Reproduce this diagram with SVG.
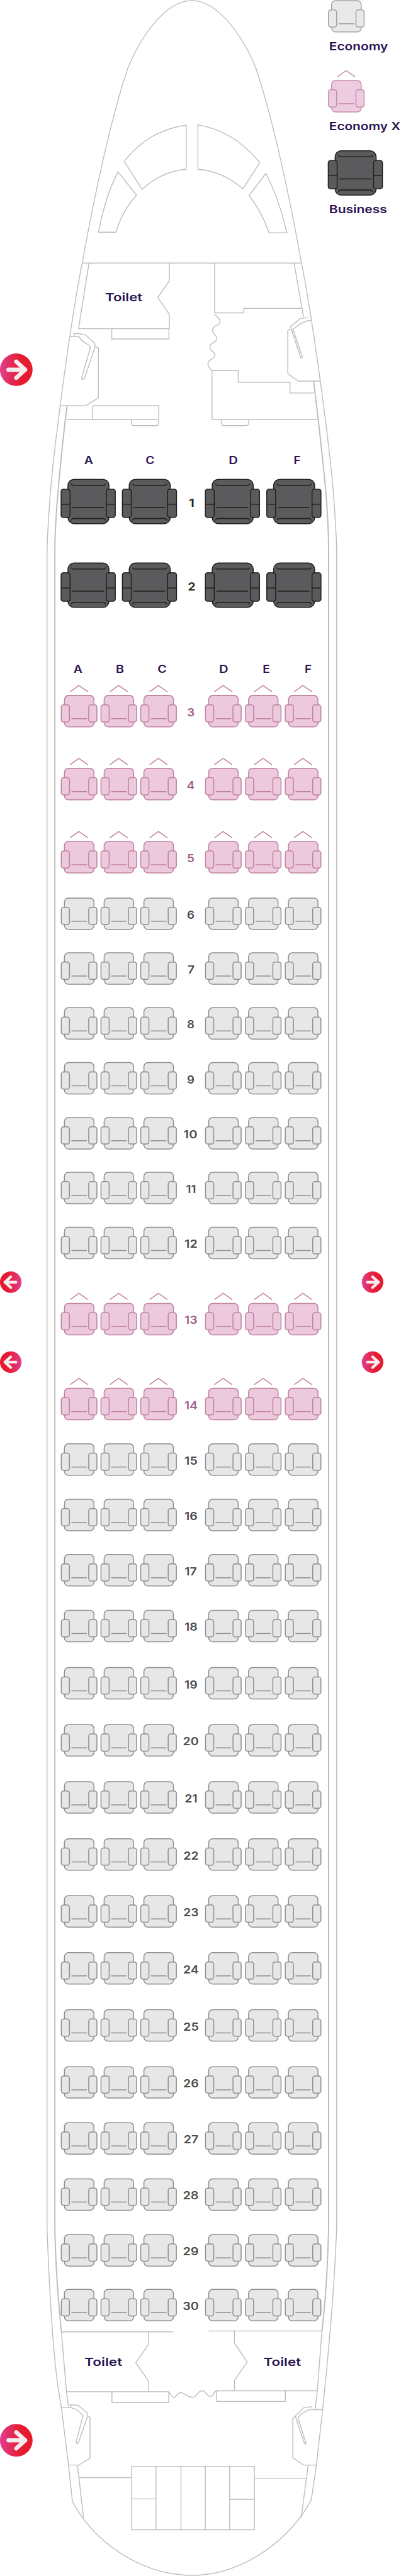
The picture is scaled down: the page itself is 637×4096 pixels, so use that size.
<svg xmlns="http://www.w3.org/2000/svg" width="637" height="4096" viewBox="0 0 637 4096">
<style>
.p{fill:none;stroke:#bdbdbd;stroke-width:1.6;stroke-linejoin:miter}
.w{fill:none;stroke:#bdbdbd;stroke-width:2.2}
.t{font-family:"Inter","Liberation Sans",sans-serif;font-weight:600;fill:#2a1452;font-size:20px}
.n{font-family:"Inter","Liberation Sans",sans-serif;font-weight:600;font-size:20px;text-anchor:middle}
.ne{fill:#4d4d4d}.nx{fill:#a0628a}.nb{fill:#262626}
.c{text-anchor:middle}
.eb{fill:#e7e7e7;stroke:#8f8f8f;stroke-width:1.7}
.xb{fill:#ecc9dc;stroke:#c0819f;stroke-width:1.7}
.bb{fill:#5b5b5d;stroke:#1f1f1f;stroke-width:1.7}
.eb2{fill:#e9e9e9;stroke:#a3a3a3;stroke-width:1.7}
.xb2{fill:#eeccdf;stroke:#c78cab;stroke-width:1.7}
.ln{fill:none}
</style>
<defs>
<linearGradient id="gr"><stop offset="0" stop-color="#e0408f"/><stop offset=".6" stop-color="#e61c33"/><stop offset="1" stop-color="#e61a2b"/></linearGradient>
<linearGradient id="gl"><stop offset="0" stop-color="#e61a2b"/><stop offset=".4" stop-color="#e61c33"/><stop offset="1" stop-color="#e0408f"/></linearGradient>
<g id="ar"><circle r="29.3" fill="url(#gr)"/><path d="M-14,0H16M0,-14.500L16,0L0,14.500" fill="none" stroke="#f6ecf0" stroke-width="7.500" stroke-linecap="round" stroke-linejoin="round"/></g>
<g id="al"><circle r="29.3" fill="url(#gl)"/><path d="M14,0H-16M0,-14.500L-16,0L0,14.500" fill="none" stroke="#f6ecf0" stroke-width="7.500" stroke-linecap="round" stroke-linejoin="round"/></g>
<g id="e" class="eb"><rect width="53" height="56.500" rx="7"/><rect x="-5.700" y="16.700" width="14.700" height="31" rx="4"/><rect x="43.600" y="16.700" width="14.700" height="31" rx="4"/><path d="M12.600,41.700H40.300" fill="none"/></g>
<g id="e2" class="eb2"><rect width="53" height="56.500" rx="7"/><rect x="-5.700" y="16.700" width="14.700" height="31" rx="4"/><rect x="43.600" y="16.700" width="14.700" height="31" rx="4"/><path d="M12.600,41.700H40.300" fill="none"/></g>
<g id="x" class="xb"><path d="M10.300,-6.700L26,-18L42,-6.700" fill="none"/><rect width="53" height="56.500" rx="7"/><rect x="-5.700" y="16.700" width="14.700" height="31" rx="4"/><rect x="43.600" y="16.700" width="14.700" height="31" rx="4"/><path d="M12.600,41.700H40.300" fill="none"/></g>
<g id="x2" class="xb2"><path d="M10.300,-6.700L26,-18L42,-6.700" fill="none"/><rect width="53" height="56.500" rx="7"/><rect x="-5.700" y="16.700" width="14.700" height="31" rx="4"/><rect x="43.600" y="16.700" width="14.700" height="31" rx="4"/><path d="M12.600,41.700H40.300" fill="none"/></g>
<g id="b" class="bb"><rect width="73.700" height="79.700" rx="11"/><rect x="-12.300" y="17.500" width="16" height="51" rx="4"/><path d="M-12.300,44.700H3.700"/><rect x="69" y="17.500" width="16" height="51" rx="4"/><path d="M69,44.700H85"/><path d="M7.700,50.500H64.500" fill="none"/><path d="M6,8Q7,10.800 10,10.800H63.500Q66.500,10.800 67.500,8" fill="none"/><path d="M6,74Q7,70.500 10,70.500H63.500Q66.500,70.500 67.500,74" fill="none"/></g>
<g id="re"><use href="#e" x="115.700"/><use href="#e" x="187"/><use href="#e" x="258.400"/><use href="#e" x="374.700"/><use href="#e" x="446.300"/><use href="#e" x="517.900"/></g>
<g id="rx"><use href="#x" x="115.700"/><use href="#x" x="187"/><use href="#x" x="258.400"/><use href="#x" x="374.700"/><use href="#x" x="446.300"/><use href="#x" x="517.900"/></g>
<g id="rb"><use href="#b" x="122"/><use href="#b" x="232"/><use href="#b" x="381"/><use href="#b" x="491.300"/></g>
</defs>
<g transform="scale(0.8847)">
<g id="fuselage">
<path class="p" d="M344.500,1C300,1 255,60 229.600,122.400C205,195 175,320 147.800,472C135,535 118,650 108,729.600C100,790 92,860 89,905C86,950 84.500,970 84.500,992V4006C88,4100 95,4220 103.300,4284L110.200,4327L123,4430.500L130,4495.500C165,4565 250,4628 344.500,4628.700C440,4628 525,4560 559.200,4492L568,4430.500L579.400,4330.800C583,4290 586,4270 589,4232C595,4170 601,4090 604.500,4006V992C604.500,970 603,950 600,905C597,860 589,790 581,729.600C571,650 554,535 541.200,472C514,320 484,195 459.400,122.400C434,60 389,1 344.500,1Z"/>
<path class="w" d="M120.300,729.600C114,780 106,860 102,911C100,940 98.500,965 98.500,987V4006C100,4080 106,4150 110.200,4190.700"/>
<path class="w" d="M563,685C570,740 584,860 587,911C589,940 590,965 590,987V4006C588,4080 583,4150 578,4189.400"/>
<path class="p" d="M110.200,4190.700L119.400,4299L123,4325M139,4430.500L150,4524.600M578,4189.400L569.800,4297L566,4329M553.300,4430.500L540.900,4524.600M159.800,472.700L141,590.700M528,472.700L545,570"/>
<path class="p" d="M147.800,472.700H541.200"/>
</g>
<g id="cockpit" class="p">
<path d="M334.300,225V304Q290,308 255.300,340.300L223.100,290.300Q265,235 334.300,225Z"/>
<path d="M355.400,224.500V304Q400,308 436.200,339.300L466.500,292.300Q420,235 355.400,224.500Z"/>
<path d="M212,309L245.200,351Q220,378 208,417.300H176.800Q190,350 212,309Z"/>
<path d="M477.500,311.700L447.200,351.500Q470,380 483,418.400H515.200Q500,355 477.500,311.700Z"/>
</g>
<g id="forward-cabin" class="p">
<path d="M141,590.700H304V565L283.300,534.700L304,505V472.700"/>
<path d="M200.700,591.700V609.300H303.300V591.700"/>
<path d="M133.300,604.500V599L143.300,600L153.300,601.700L170,616.700L170.700,623.300L152.700,676.700Q150,684 147,681.500Q145.500,680 146.700,678.300L162.300,625L160,620.700L146.700,611.700L141.700,605L133.300,604.500L125,604.700"/>
<path d="M171.700,623.300L176.700,625.700V715L154,729.300H107.300"/>
<path d="M166.300,754V729.300H285V754M118.300,754H285"/>
<path d="M235.700,755V759Q235.700,765 241,765H280Q285,765 285,759V755"/>
<path d="M385.300,472.700V562.300H437.700V554.300H541.700"/>
<path d="M385.300,565C392,570 396,574 395,579C394,586 382,584 381.700,593C381.500,601 390,602 389.300,609C388.500,616 377,615 376.700,624C376.500,631 386.500,632 386,639C385.500,646 373.500,645 373.300,654C373.200,660 378,663 380.700,666"/>
<path d="M380.700,754V666H427.700V687H520.700V706.300H564"/>
<path d="M380.700,754H570.700"/>
<path d="M397.300,755V759Q397.300,765 403,765H441Q446.700,765 446.700,759V755"/>
<path d="M521.700,591.700L516.700,594V671.700L536,685H575"/>
<path d="M553.300,571L539.300,572.300L521.700,587.300L540,642.700Q542,645 543,641.500L526,591.700L541.700,580.700L553.300,576H558.300"/>
</g>
<g id="rear-cabin" class="p">
<path d="M110.600,4191H310.800M374.700,4189.400H578"/>
<path d="M266.800,4191V4213.200L243.800,4246.600L266.800,4279.600V4298.700"/>
<path d="M421,4189.400V4211.500L444,4245.300L421,4278.300V4297"/>
<path d="M119.400,4298.700H303M388.900,4297H569.800"/>
<path d="M201,4298.700V4318.200H303V4298.700M389,4297V4316H512.400V4297"/>
<path d="M303,4299C307,4303 308,4309 312.200,4309C317,4309 318,4300.400 324,4300.400C331,4300.400 338,4309 346.600,4308.600C354,4308 355,4297 362.700,4297C370,4297 371,4307 378,4307C384,4307 383,4298 388.900,4297"/>
<path d="M110.200,4327H126V4322L140,4323L156,4336L157.500,4342.500L142.300,4386Q140,4392.500 138,4391.500Q136,4390 136.800,4388L149.200,4341.600L137.700,4330.300L126,4327"/>
<path d="M158.400,4342.500L161.600,4344.600V4418.300L141.400,4430.500H123"/>
<path d="M560,4325.500L545.400,4327.300L530.300,4342.500L546.400,4391.500Q548,4394 549.600,4392L534.900,4344.600L541.800,4338L553.300,4331.600L560,4330.800H579.400"/>
<path d="M530.300,4342.500L525.700,4346.800V4417.500L545.400,4430.500H568"/>
<path d="M141.400,4453H236.400M456.800,4454.800H549.600"/>
<path d="M236.400,4432.700H456.800V4546.700H236.400ZM280,4432.700V4546.700M325,4432.700V4546.700M368.700,4432.700V4546.700M412.300,4432.700V4546.700M236.400,4491.200H280M412.300,4492H456.800"/>
</g>
<g id="exits">
<use href="#ar" transform="translate(29.200,664.500)"/>
<use href="#ar" transform="translate(29.200,4386)"/>
<use href="#al" transform="translate(19.300,2304.400) scale(.66)"/>
<use href="#al" transform="translate(19.300,2448.200) scale(.66)"/>
<use href="#ar" transform="translate(669,2304.400) scale(.66)"/>
<use href="#ar" transform="translate(669,2448.200) scale(.66)"/>
</g>
<g id="legend">
<use href="#e2" x="595.500" y="1"/>
<text class="t" x="591" y="90" textLength="105.700" lengthAdjust="spacingAndGlyphs">Economy</text>
<use href="#x2" x="595.500" y="144.700"/>
<text class="t" x="591" y="234.300" textLength="128" lengthAdjust="spacingAndGlyphs">Economy X</text>
<use href="#b" x="601.700" y="271"/>
<text class="t" x="591" y="383.300" textLength="104" lengthAdjust="spacingAndGlyphs">Business</text>
</g>
<g id="toilets">
<text class="t" x="188.700" y="542" textLength="67" lengthAdjust="spacingAndGlyphs">Toilet</text>
<text class="t" x="151.500" y="4252.700" textLength="68" lengthAdjust="spacingAndGlyphs">Toilet</text>
<text class="t" x="473" y="4252.700" textLength="67.400" lengthAdjust="spacingAndGlyphs">Toilet</text>
</g>
<g id="column-letters">
<text class="t c" x="159.300" y="834.300" textLength="16" lengthAdjust="spacingAndGlyphs">A</text>
<text class="t c" x="269.500" y="834.300" textLength="16" lengthAdjust="spacingAndGlyphs">C</text>
<text class="t c" x="419" y="834.300" textLength="16.500" lengthAdjust="spacingAndGlyphs">D</text>
<text class="t c" x="533.500" y="834.300" textLength="12.400" lengthAdjust="spacingAndGlyphs">F</text>
<text class="t c" x="140" y="1210" textLength="16" lengthAdjust="spacingAndGlyphs">A</text>
<text class="t c" x="215.300" y="1210" textLength="14.700" lengthAdjust="spacingAndGlyphs">B</text>
<text class="t c" x="291" y="1210" textLength="16.500" lengthAdjust="spacingAndGlyphs">C</text>
<text class="t c" x="401.700" y="1210" textLength="16.500" lengthAdjust="spacingAndGlyphs">D</text>
<text class="t c" x="478" y="1210" textLength="12.900" lengthAdjust="spacingAndGlyphs">E</text>
<text class="t c" x="553.300" y="1210" textLength="12.400" lengthAdjust="spacingAndGlyphs">F</text>
</g>
<g id="rows">
<g id="row-1" transform="translate(0,861.500)"><use href="#rb"/><text class="n nb" x="344" y="49" textLength="10.500" lengthAdjust="spacingAndGlyphs">1</text></g>
<g id="row-2" transform="translate(0,1012)"><use href="#rb"/><text class="n nb" x="344" y="49" textLength="14" lengthAdjust="spacingAndGlyphs">2</text></g>
<g id="row-3" transform="translate(0,1250)"><use href="#rx"/><text class="n nx" x="342.500" y="37.300" textLength="13.800" lengthAdjust="spacingAndGlyphs">3</text></g>
<g id="row-4" transform="translate(0,1381)"><use href="#rx"/><text class="n nx" x="342.500" y="37.300" textLength="14.500" lengthAdjust="spacingAndGlyphs">4</text></g>
<g id="row-5" transform="translate(0,1512.500)"><use href="#rx"/><text class="n nx" x="342.500" y="37.300" textLength="13.500" lengthAdjust="spacingAndGlyphs">5</text></g>
<g id="row-6" transform="translate(0,1614)"><use href="#re"/><text class="n ne" x="342.500" y="37.300" textLength="13.500" lengthAdjust="spacingAndGlyphs">6</text></g>
<g id="row-7" transform="translate(0,1712.500)"><use href="#re"/><text class="n ne" x="343" y="37.300" textLength="13" lengthAdjust="spacingAndGlyphs">7</text></g>
<g id="row-8" transform="translate(0,1811.200)"><use href="#re"/><text class="n ne" x="342.500" y="37.300" textLength="13.500" lengthAdjust="spacingAndGlyphs">8</text></g>
<g id="row-9" transform="translate(0,1909.800)"><use href="#re"/><text class="n ne" x="342.500" y="37.300" textLength="13.500" lengthAdjust="spacingAndGlyphs">9</text></g>
<g id="row-10" transform="translate(0,2008.500)"><use href="#re"/><text class="n ne" x="342" y="37.300" textLength="24.800" lengthAdjust="spacingAndGlyphs">10</text></g>
<g id="row-11" transform="translate(0,2107)"><use href="#re"/><text class="n ne" x="343" y="37.300" textLength="18" lengthAdjust="spacingAndGlyphs">11</text></g>
<g id="row-12" transform="translate(0,2205.800)"><use href="#re"/><text class="n ne" x="343" y="37.300" textLength="23.400" lengthAdjust="spacingAndGlyphs">12</text></g>
<g id="row-13" transform="translate(0,2342.500)"><use href="#rx"/><text class="n nx" x="343" y="37.300" textLength="23.400" lengthAdjust="spacingAndGlyphs">13</text></g>
<g id="row-14" transform="translate(0,2495.300)"><use href="#rx"/><text class="n nx" x="343" y="37.300" textLength="23.400" lengthAdjust="spacingAndGlyphs">14</text></g>
<g id="row-15" transform="translate(0,2595)"><use href="#re"/><text class="n ne" x="343" y="37.300" textLength="23.400" lengthAdjust="spacingAndGlyphs">15</text></g>
<g id="row-16" transform="translate(0,2694.800)"><use href="#re"/><text class="n ne" x="343" y="37.300" textLength="23.400" lengthAdjust="spacingAndGlyphs">16</text></g>
<g id="row-17" transform="translate(0,2794)"><use href="#re"/><text class="n ne" x="342.500" y="37.300" textLength="22" lengthAdjust="spacingAndGlyphs">17</text></g>
<g id="row-18" transform="translate(0,2894.200)"><use href="#re"/><text class="n ne" x="343" y="37.300" textLength="23.400" lengthAdjust="spacingAndGlyphs">18</text></g>
<g id="row-19" transform="translate(0,2997.200)"><use href="#re"/><text class="n ne" x="343" y="37.300" textLength="23.400" lengthAdjust="spacingAndGlyphs">19</text></g>
<g id="row-20" transform="translate(0,3099.700)"><use href="#re"/><text class="n ne" x="342.500" y="37.300" textLength="28.500" lengthAdjust="spacingAndGlyphs">20</text></g>
<g id="row-21" transform="translate(0,3202.200)"><use href="#re"/><text class="n ne" x="343" y="37.300" textLength="23" lengthAdjust="spacingAndGlyphs">21</text></g>
<g id="row-22" transform="translate(0,3304.700)"><use href="#re"/><text class="n ne" x="343" y="37.300" textLength="27.500" lengthAdjust="spacingAndGlyphs">22</text></g>
<g id="row-23" transform="translate(0,3407.100)"><use href="#re"/><text class="n ne" x="343" y="37.300" textLength="27.500" lengthAdjust="spacingAndGlyphs">23</text></g>
<g id="row-24" transform="translate(0,3509.500)"><use href="#re"/><text class="n ne" x="343" y="37.300" textLength="28" lengthAdjust="spacingAndGlyphs">24</text></g>
<g id="row-25" transform="translate(0,3612)"><use href="#re"/><text class="n ne" x="343" y="37.300" textLength="28" lengthAdjust="spacingAndGlyphs">25</text></g>
<g id="row-26" transform="translate(0,3714.400)"><use href="#re"/><text class="n ne" x="343" y="37.300" textLength="28" lengthAdjust="spacingAndGlyphs">26</text></g>
<g id="row-27" transform="translate(0,3815.200)"><use href="#re"/><text class="n ne" x="343" y="37.300" textLength="26.500" lengthAdjust="spacingAndGlyphs">27</text></g>
<g id="row-28" transform="translate(0,3916)"><use href="#re"/><text class="n ne" x="342.500" y="37.300" textLength="28.500" lengthAdjust="spacingAndGlyphs">28</text></g>
<g id="row-29" transform="translate(0,4016.300)"><use href="#re"/><text class="n ne" x="342.500" y="37.300" textLength="28.500" lengthAdjust="spacingAndGlyphs">29</text></g>
<g id="row-30" transform="translate(0,4114.800)"><use href="#re"/><text class="n ne" x="342.500" y="37.300" textLength="29" lengthAdjust="spacingAndGlyphs">30</text></g>
</g>
</g>
</svg>
